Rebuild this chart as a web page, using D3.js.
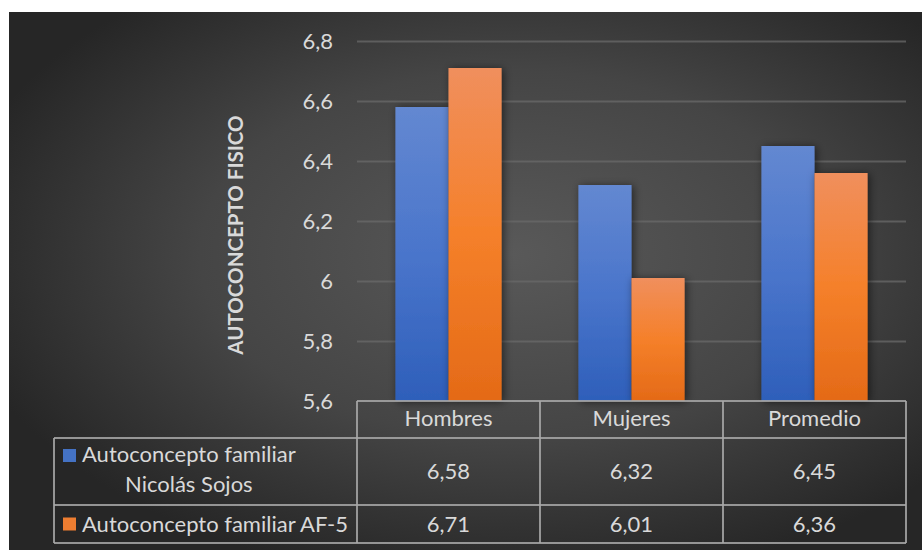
<!DOCTYPE html>
<html>
<head>
<meta charset="utf-8">
<script src="https://cdn.jsdelivr.net/npm/d3@7"></script>
<style>
  html, body { margin: 0; padding: 0; background: #ffffff; }
  svg { display: block; }
  text { font-family: Lato, "Open Sans", sans-serif; fill: #d9d9d9; }
</style>
</head>
<body>
<svg id="chart" width="922" height="550"></svg>
<script>
// ---------- data ----------
const categories = ["Hombres", "Mujeres", "Promedio"];
const seriesNames = ["Autoconcepto familiar Nicolás Sojos", "Autoconcepto familiar AF-5"];
const seriesLabelLines = [["Autoconcepto familiar", "Nicolás Sojos"], ["Autoconcepto familiar AF-5"]];
const nicolasSojos = [6.58, 6.32, 6.45];
const af5 = [6.71, 6.01, 6.36];
const yTicks = [5.6, 5.8, 6.0, 6.2, 6.4, 6.6, 6.8];
const yTitle = "AUTOCONCEPTO FISICO";

const seriesValues = [nicolasSojos, af5];
const seriesKeys = ["s0", "s1"];

// ---------- layout ----------
const W = 922, H = 550;
const plot = { left: 357, right: 906, top: 41, bottom: 401 };
const legendLeft = 54;
const rowH = [37, 67, 38]; // header, row1, row2

const svg = d3.select("#chart");
const defs = svg.append("defs");

// background gradient
const bg = defs.append("radialGradient").attr("id", "bgGrad")
  .attr("cx", "0.55").attr("cy", "0.45").attr("r", "0.62");
bg.append("stop").attr("offset", "0%").attr("stop-color", "#595959");
bg.append("stop").attr("offset", "55%").attr("stop-color", "#454545");
bg.append("stop").attr("offset", "100%").attr("stop-color", "#262626");

const barGrads = [
  ["#6388d1", "#4a75cb", "#2e5fba"],
  ["#f08f5d", "#f5802a", "#e46a17"]
];
barGrads.forEach((c, i) => {
  const g = defs.append("linearGradient").attr("id", "barGrad" + i)
    .attr("x1", 0).attr("y1", 0).attr("x2", 0).attr("y2", 1);
  g.append("stop").attr("offset", "0%").attr("stop-color", c[0]);
  g.append("stop").attr("offset", "50%").attr("stop-color", c[1]);
  g.append("stop").attr("offset", "100%").attr("stop-color", c[2]);
});
const legendColors = ["#4472c4", "#ed7d31"];

const shadow = defs.append("filter").attr("id", "shadow")
  .attr("x", "-30%").attr("y", "-10%").attr("width", "160%").attr("height", "120%");
shadow.append("feDropShadow").attr("dx", 2).attr("dy", 1).attr("stdDeviation", 4)
  .attr("flood-color", "#000").attr("flood-opacity", 0.55);

svg.append("rect").attr("x", 9).attr("y", 12).attr("width", W - 9).attr("height", H - 12)
  .attr("fill", "url(#bgGrad)");

// ---------- scales ----------
const y = d3.scaleLinear().domain([5.6, 6.8]).range([plot.bottom, plot.top]);
const x = d3.scaleBand().domain(categories).range([plot.left, plot.right]).paddingInner(0).paddingOuter(0);
const bw = x.bandwidth();
const x1 = d3.scaleBand().domain(seriesKeys).range([bw * 0.21, bw * 0.79]).padding(0);

const locale = d3.formatLocale({ decimal: ",", thousands: ".", grouping: [3], currency: ["", "€"] });
const fmt = locale.format("~g");
const fmt2 = locale.format(".2f");

// gridlines
const grid = svg.append("g").attr("transform", `translate(${plot.left},0)`)
  .call(d3.axisLeft(y).tickValues(yTicks.filter(t => t > 5.6)).tickSize(-(plot.right - plot.left)).tickFormat(""));
grid.select(".domain").remove();
grid.selectAll("line").attr("stroke", "#6a6a6a").attr("stroke-width", 2).attr("stroke-opacity", 0.75);

// tick labels
const ya = svg.append("g").attr("transform", `translate(${plot.left},0)`)
  .call(d3.axisLeft(y).tickValues(yTicks).tickSize(0).tickPadding(24).tickFormat(fmt));
ya.select(".domain").remove();
ya.selectAll("text").attr("font-size", 22).attr("fill", "#d9d9d9")
  .attr("font-family", "Lato, 'Open Sans', sans-serif").attr("dy", "0.36em");

// y title
svg.append("text")
  .attr("transform", `translate(243,${(plot.top + plot.bottom) / 2 + 14}) rotate(-90)`)
  .attr("text-anchor", "middle").attr("font-size", 20.5).attr("font-weight", "bold")
  .text(yTitle);

// ---------- bars ----------
const groups = svg.append("g").selectAll("g").data(categories).join("g")
  .attr("transform", d => `translate(${x(d)},0)`);
groups.selectAll("rect")
  .data((c, ci) => seriesKeys.map((k, si) => ({ k, si, v: seriesValues[si][ci] })))
  .join("rect")
  .attr("x", d => x1(d.k))
  .attr("width", x1.bandwidth())
  .attr("y", d => y(d.v))
  .attr("height", d => y(5.6) - y(d.v))
  .attr("fill", d => `url(#barGrad${d.si})`)
  .attr("filter", "url(#shadow)");

// ---------- data table ----------
const tTop = plot.bottom;
const r1Top = tTop + rowH[0];
const r2Top = r1Top + rowH[1];
const tBottom = r2Top + rowH[2];
const table = svg.append("g");
const lineStyle = sel => sel.attr("stroke", "#a8a8a8").attr("stroke-width", 2).attr("stroke-opacity", 0.85);

// header cells
table.selectAll("text.hdr").data(categories).join("text").attr("class", "hdr")
  .attr("x", d => x(d) + bw / 2).attr("y", tTop + 25).attr("text-anchor", "middle")
  .attr("font-size", 22).text(d => d);

// value cells
const rowMid = [r1Top + rowH[1] / 2, r2Top + rowH[2] / 2];
seriesValues.forEach((vals, si) => {
  table.selectAll("text.v" + si).data(vals).join("text").attr("class", "v" + si)
    .attr("x", (d, i) => x(categories[i]) + bw / 2).attr("y", rowMid[si]).attr("dy", "0.36em")
    .attr("text-anchor", "middle").attr("font-size", 22).text(d => fmt2(d));
});

// legend cells
const legendTextX = 82;
// row 1 (two lines)
const l1a = table.append("text").attr("x", legendTextX).attr("y", r1Top + 24)
  .attr("font-size", 22).text(seriesLabelLines[0][0]);
const l1w = l1a.node().getComputedTextLength();
table.append("text").attr("x", legendTextX + l1w / 2).attr("y", r1Top + 54)
  .attr("text-anchor", "middle").attr("font-size", 22).text(seriesLabelLines[0][1]);
table.append("rect").attr("x", 63).attr("y", r1Top + 11).attr("width", 13).attr("height", 13)
  .attr("fill", legendColors[0]);
// row 2
table.append("text").attr("x", legendTextX).attr("y", rowMid[1]).attr("dy", "0.36em")
  .attr("font-size", 22).text(seriesLabelLines[1][0]);
table.append("rect").attr("x", 63).attr("y", rowMid[1] - 6.5).attr("width", 13).attr("height", 13)
  .attr("fill", legendColors[1]);

// table lines
const hLines = [
  [plot.left, tTop, plot.right, tTop],
  [legendLeft, r1Top, plot.right, r1Top],
  [legendLeft, r2Top, plot.right, r2Top],
  [legendLeft, tBottom, plot.right, tBottom]
];
const vLines = [[legendLeft, r1Top, legendLeft, tBottom]]
  .concat(categories.map(c => [x(c), tTop, x(c), tBottom]))
  .concat([[plot.right, tTop, plot.right, tBottom]]);
table.selectAll("line").data(hLines.concat(vLines)).join("line")
  .attr("x1", d => d[0]).attr("y1", d => d[1]).attr("x2", d => d[2]).attr("y2", d => d[3])
  .call(lineStyle);
</script>
</body>
</html>
